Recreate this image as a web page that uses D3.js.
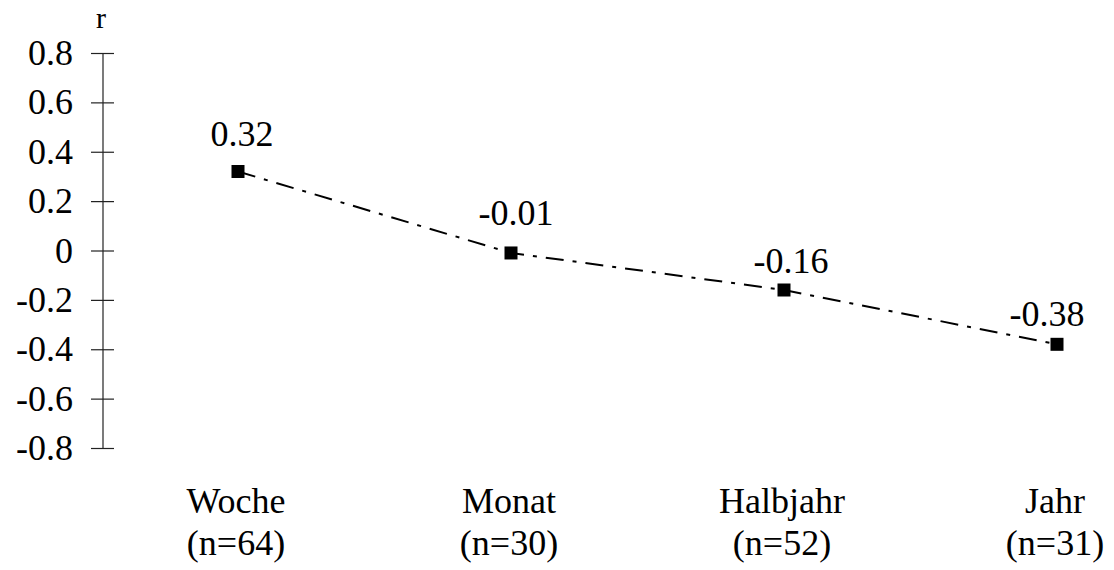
<!DOCTYPE html>
<html>
<head>
<meta charset="utf-8">
<script src="https://cdn.jsdelivr.net/npm/d3@7/dist/d3.min.js"></script>
<style>
  html, body { margin: 0; padding: 0; background: #fff; }
  svg, svg text { font-family: "Liberation Serif", "Times New Roman", Times, "DejaVu Serif", serif; }
</style>
</head>
<body>
<svg id="chart" width="1114" height="570"></svg>
<script>
// Correlation r by measurement interval
const categories = ["Woche", "Monat", "Halbjahr", "Jahr"];
const sampleSizes = [64, 30, 52, 31];
const rValues = [0.32, -0.01, -0.16, -0.38];
const yTicks = [0.8, 0.6, 0.4, 0.2, 0, -0.2, -0.4, -0.6, -0.8];
const yTickLabels = ["0.8", "0.6", "0.4", "0.2", "0", "-0.2", "-0.4", "-0.6", "-0.8"];
const axisTitle = "r";

// label nudges (dx, dy) relative to each marker
const labelNudge = [[4, -26], [5, -28], [7, -17], [-10, -18]];

const serif = "Liberation Serif, Times New Roman, Times, DejaVu Serif, serif";
const svg = d3.select("#chart").attr("font-family", serif);
const fontSize = 36;

const x = d3.scalePoint().domain(categories).range([238, 1057]);
const y = d3.scaleLinear().domain([-0.8, 0.8]).range([448, 53]);
const axisX = 103;

// y axis
const yAxis = d3.axisLeft(y)
  .tickValues(yTicks)
  .tickSize(0)
  .tickPadding(30)
  .tickFormat((d, i) => yTickLabels[i]);

const gAxis = svg.append("g")
  .attr("transform", `translate(${axisX},0)`)
  .call(yAxis)
  .attr("font-family", serif)
  .attr("font-size", fontSize);
gAxis.select(".domain").remove();
gAxis.append("line")
  .attr("x1", 0).attr("x2", 0)
  .attr("y1", y(0.8)).attr("y2", y(-0.8))
  .attr("stroke", "#222").attr("stroke-width", 1.2);
gAxis.selectAll(".tick line")
  .attr("x1", -12).attr("x2", 11)
  .attr("stroke", "#222").attr("stroke-width", 1.2);
gAxis.selectAll(".tick text")
  .attr("fill", "#000");

svg.append("text")
  .attr("x", 101).attr("y", 28)
  .attr("text-anchor", "middle")
  .attr("font-size", 30)
  .text(axisTitle);

// dash-dot line
const pts = categories.map((c, i) => ({ c, v: rValues[i], n: sampleSizes[i] }));
const line = d3.line().x(d => x(d.c)).y(d => y(d.v));
svg.append("path")
  .datum(pts)
  .attr("d", line)
  .attr("fill", "none")
  .attr("stroke", "#000")
  .attr("stroke-width", 2)
  .attr("stroke-dasharray", "18,9,4,9");

// square markers
const m = 13;
svg.selectAll("rect.marker")
  .data(pts)
  .join("rect")
  .attr("class", "marker")
  .attr("x", d => x(d.c) - m / 2)
  .attr("y", d => y(d.v) - m / 2)
  .attr("width", m)
  .attr("height", m)
  .attr("fill", "#000");

// value labels
svg.selectAll("text.value")
  .data(pts)
  .join("text")
  .attr("class", "value")
  .attr("x", (d, i) => x(d.c) + labelNudge[i][0])
  .attr("y", (d, i) => y(d.v) + labelNudge[i][1])
  .attr("text-anchor", "middle")
  .attr("font-size", fontSize)
  .text(d => String(d.v));

// category labels, two lines
const cat = svg.selectAll("text.cat")
  .data(pts)
  .join("text")
  .attr("class", "cat")
  .attr("text-anchor", "middle")
  .attr("font-size", fontSize);
cat.append("tspan")
  .attr("x", d => x(d.c) - 2)
  .attr("y", 513)
  .text(d => d.c);
cat.append("tspan")
  .attr("x", d => x(d.c) - 2)
  .attr("y", 555)
  .text(d => `(n=${d.n})`);
</script>
</body>
</html>
